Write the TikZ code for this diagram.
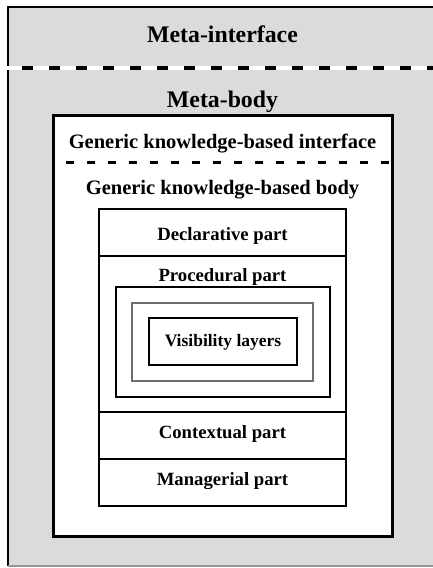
\documentclass[tikz,border=0pt]{standalone}
\usepackage{fontspec}
\setmainfont{Liberation Serif}
\definecolor{bggray}{RGB}{219,219,219}
\definecolor{framegray}{RGB}{110,110,110}
\definecolor{edgegray}{RGB}{150,150,150}
\begin{document}
\begin{tikzpicture}[x=1pt,y=-1pt,
  lbl/.style={font=\bfseries, anchor=base, inner sep=0pt},
  partline/.style={line width=2pt},
  layerline/.style={line width=1.2pt}]
\useasboundingbox (0,0) rectangle (433,568);
% outer meta area
\fill[bggray] (8,7) rectangle (433,566);
\draw[line width=2.3pt] (8,566) -- (8,7) -- (433,7);
\draw[edgegray, line width=1.2pt] (8,566) -- (433,566);
% outer dashed separator
\draw[white, line width=4pt] (6,68) -- (433,68);
\draw[black, line width=4pt, dash pattern=on 11pt off 16pt, dash phase=11pt] (6,68) -- (433,68);
\node[lbl, font=\fontsize{23.8}{26}\selectfont\bfseries] (metaif) at (222.5,42) {Meta-interface};
\node[lbl, font=\fontsize{23.8}{26}\selectfont\bfseries] (metabody) at (222.5,107) {Meta-body};
% generic knowledge-based box
\filldraw[fill=white, line width=3pt] (53,115) rectangle (392,536);
\draw[white, line width=3pt] (54.5,162.5) -- (390.5,162.5);
\draw[black, line width=3pt, dash pattern=on 8pt off 13pt, dash phase=10pt] (54.5,162.5) -- (390.5,162.5);
\node[lbl, font=\fontsize{20.5}{23}\selectfont\bfseries] (genif) at (222.5,148) {Generic knowledge-based interface};
\node[lbl, font=\fontsize{20.5}{23}\selectfont\bfseries] (genbody) at (222.5,194) {Generic knowledge-based body};
% parts box
\draw[partline] (99,209) rectangle (346,506);
\draw[partline] (99,256) -- (346,256);
\draw[partline] (99,412) -- (346,412);
\draw[partline] (99,459) -- (346,459);
\node[lbl, font=\fontsize{18.7}{21}\selectfont\bfseries] (decl) at (222.5,240.5) {Declarative part};
\node[lbl, font=\fontsize{18.7}{21}\selectfont\bfseries] (proc) at (222.5,281.5) {Procedural part};
\node[lbl, font=\fontsize{18.7}{21}\selectfont\bfseries] (ctx) at (222.5,438.3) {Contextual part};
\node[lbl, font=\fontsize{18.7}{21}\selectfont\bfseries] (mgr) at (222.5,485) {Managerial part};
% visibility layers
\draw[layerline] (116,287) rectangle (330,397);
\draw[framegray, line width=1.8pt] (132,303) rectangle (313,381);
\draw[layerline] (149,318) rectangle (297,365);
\node[lbl, font=\fontsize{17.5}{20}\selectfont\bfseries] (vis) at (223,346.5) {Visibility layers};
\end{tikzpicture}
\end{document}
